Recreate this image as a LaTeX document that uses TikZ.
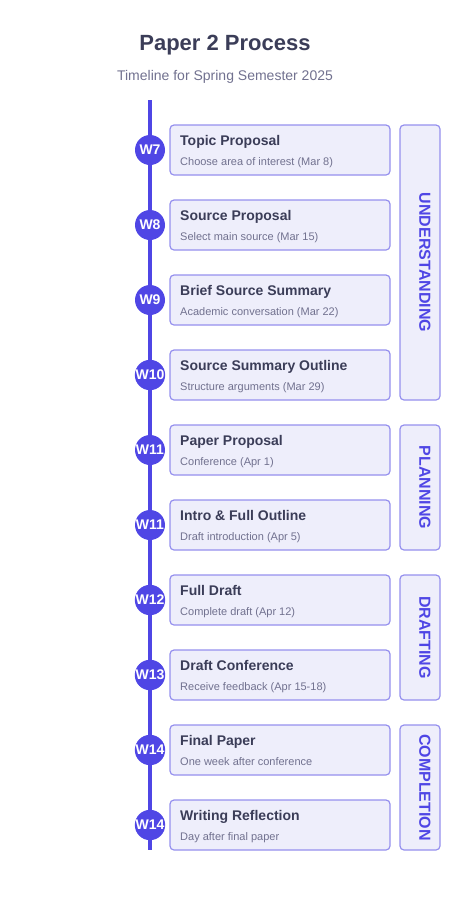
\documentclass[tikz,border=0pt]{standalone}
\usepackage{fontspec}
\setmainfont{Liberation Sans}
\definecolor{indigo}{HTML}{4F46E5}
\definecolor{cardfill}{HTML}{EEEEFB}
\definecolor{cardline}{HTML}{9590EE}
\definecolor{titlec}{HTML}{3B3D58}
\definecolor{subc}{HTML}{71718F}
\begin{document}
\begin{tikzpicture}[x=1pt,y=-1pt,
  card/.style={draw=cardline,fill=cardfill,line width=1.2pt,rounded corners=4pt},
  phase/.style={draw=cardline,fill=cardfill,line width=1.2pt,rounded corners=4pt},
  wk/.style={circle,fill=indigo,minimum size=30pt,inner sep=0pt,text=white,font=\fontsize{14}{14}\selectfont\bfseries},
  ttl/.style={anchor=base west,inner sep=0pt,text=titlec,font=\fontsize{14}{14}\selectfont\bfseries},
  sub/.style={anchor=base west,inner sep=0pt,text=subc,font=\fontsize{11}{11}\selectfont},
  phtxt/.style={rotate=-90,inner sep=0pt,text=indigo,font=\fontsize{16}{16}\selectfont\bfseries}]
\useasboundingbox (0,0) rectangle (450,900);
\node[text=titlec,font=\fontsize{22}{22}\selectfont\bfseries,anchor=base] (title) at (225,50) {Paper 2 Process};
\node[text=subc,font=\fontsize{14}{14}\selectfont,anchor=base] (subtitle) at (225,80) {Timeline for Spring Semester 2025};
\coordinate (top) at (150,100);
\coordinate (bot) at (150,850);
\draw[indigo,line width=4pt] (top) -- (bot);
\foreach \i/\w/\t/\s in {0/W7/Topic Proposal/Choose area of interest (Mar 8),
  1/W8/Source Proposal/Select main source (Mar 15),
  2/W9/Brief Source Summary/Academic conversation (Mar 22),
  3/W10/Source Summary Outline/Structure arguments (Mar 29),
  4/W11/Paper Proposal/Conference (Apr 1),
  5/W11/Intro \& Full Outline/Draft introduction (Apr 5),
  6/W12/Full Draft/Complete draft (Apr 12),
  7/W13/Draft Conference/Receive feedback (Apr 15-18),
  8/W14/Final Paper/One week after conference,
  9/W14/Writing Reflection/Day after final paper}{
  \pgfmathsetmacro{\yy}{125+75*\i}
  \draw[card] (170,\yy) rectangle (390,\yy+50);
  \node[wk] (w\i) at (150,\yy+25) {\w};
  \node[ttl] (t\i) at (180,\yy+20) {\t};
  \node[sub] (s\i) at (180,\yy+40) {\s};
}
\draw[phase] (400,125) rectangle (440,400);
\node[phtxt] (p1) at (425,262.5) {UNDERSTANDING};
\draw[phase] (400,425) rectangle (440,550);
\node[phtxt] (p2) at (425,487.5) {PLANNING};
\draw[phase] (400,575) rectangle (440,700);
\node[phtxt] (p3) at (425,637.5) {DRAFTING};
\draw[phase] (400,725) rectangle (440,850);
\node[phtxt] (p4) at (425,787.5) {COMPLETION};
\end{tikzpicture}
\end{document}
